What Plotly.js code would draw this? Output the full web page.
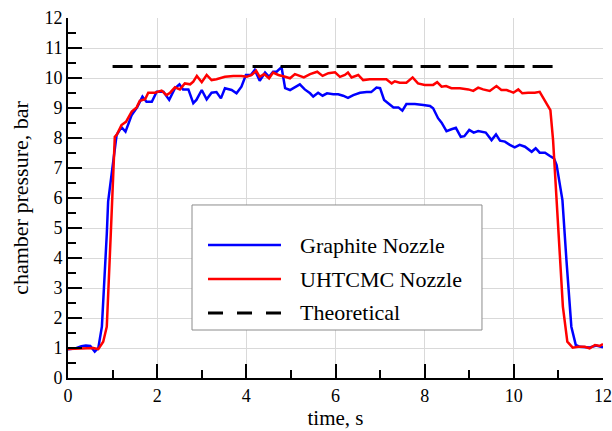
<!DOCTYPE html>
<html>
<head>
<meta charset="utf-8">
<script src="https://cdn.plot.ly/plotly-3.0.1.min.js"></script>
<style>html,body{margin:0;padding:0;background:#fff;}#chart{width:612px;height:431px;}</style>
</head>
<body>
<div id="chart"></div>
<script>
// Graphite nozzle chamber pressure (bar) vs time (s)
const graphiteTime = [0, 0.15, 0.3, 0.4, 0.5, 0.6, 0.68, 0.76, 0.87, 0.9, 1.09, 1.2, 1.29, 1.43, 1.55, 1.67, 1.76, 1.88, 1.99, 2.14, 2.27, 2.4, 2.5, 2.58, 2.7, 2.81, 2.88, 3.0, 3.11, 3.22, 3.33, 3.43, 3.52, 3.67, 3.78, 3.89, 3.99, 4.1, 4.19, 4.3, 4.42, 4.51, 4.6, 4.68, 4.79, 4.87, 4.98, 5.09, 5.2, 5.31, 5.43, 5.5, 5.61, 5.71, 5.81, 5.95, 6.06, 6.17, 6.28, 6.4, 6.55, 6.7, 6.8, 6.92, 7.0, 7.09, 7.18, 7.3, 7.41, 7.5, 7.59, 7.78, 7.97, 8.12, 8.19, 8.3, 8.38, 8.49, 8.6, 8.7, 8.81, 8.89, 9.0, 9.1, 9.2, 9.37, 9.5, 9.6, 9.69, 9.8, 9.91, 10.02, 10.13, 10.25, 10.4, 10.49, 10.58, 10.7, 10.81, 10.9, 10.96, 11.02, 11.09, 11.18, 11.29, 11.39, 11.48, 11.7, 11.85, 12];
const graphitePressure = [0.96, 0.98, 1.06, 1.08, 1.07, 0.88, 1.0, 1.71, 4.8, 5.88, 8.1, 8.36, 8.21, 8.77, 9.02, 9.38, 9.21, 9.21, 9.54, 9.54, 9.27, 9.66, 9.79, 9.62, 9.62, 9.16, 9.27, 9.6, 9.29, 9.51, 9.53, 9.32, 9.66, 9.6, 9.49, 9.71, 10.1, 10.1, 10.27, 9.91, 10.18, 10.04, 10.21, 10.21, 10.36, 9.66, 9.6, 9.69, 9.79, 9.62, 9.49, 9.38, 9.51, 9.41, 9.49, 9.46, 9.46, 9.41, 9.34, 9.43, 9.51, 9.53, 9.53, 9.68, 9.66, 9.27, 9.16, 9.02, 9.02, 8.91, 9.13, 9.13, 9.1, 9.07, 8.99, 8.66, 8.51, 8.23, 8.29, 8.34, 8.04, 8.06, 8.27, 8.18, 8.23, 8.18, 7.93, 8.12, 7.91, 7.88, 7.77, 7.69, 7.77, 7.71, 7.54, 7.66, 7.51, 7.51, 7.4, 7.32, 7.1, 6.6, 5.93, 3.93, 1.71, 1.1, 1.04, 1.02, 1.08, 1.02];

// UHTCMC nozzle chamber pressure (bar) vs time (s)
const uhtcmcTime = [0, 0.2, 0.4, 0.57, 0.68, 0.79, 0.87, 0.9, 0.96, 1.05, 1.09, 1.2, 1.3, 1.43, 1.54, 1.61, 1.73, 1.8, 1.95, 2.1, 2.21, 2.29, 2.4, 2.51, 2.62, 2.74, 2.81, 2.89, 3.0, 3.11, 3.22, 3.33, 3.52, 3.71, 3.89, 4.01, 4.12, 4.22, 4.3, 4.4, 4.51, 4.6, 4.72, 4.87, 4.98, 5.09, 5.2, 5.29, 5.43, 5.59, 5.71, 5.84, 5.99, 6.1, 6.21, 6.28, 6.36, 6.51, 6.62, 6.77, 6.92, 7.14, 7.26, 7.33, 7.44, 7.59, 7.73, 7.85, 8.0, 8.19, 8.28, 8.38, 8.48, 8.6, 8.79, 8.98, 9.09, 9.2, 9.31, 9.46, 9.61, 9.72, 9.84, 9.99, 10.1, 10.19, 10.32, 10.47, 10.58, 10.66, 10.77, 10.82, 10.88, 10.92, 10.97, 11.05, 11.1, 11.2, 11.32, 11.44, 11.59, 11.7, 11.82, 11.93, 12];
const uhtcmcPressure = [0.97, 0.98, 0.98, 1.0, 0.96, 1.21, 1.71, 2.65, 4.82, 8.04, 8.1, 8.43, 8.54, 8.88, 9.02, 9.24, 9.29, 9.51, 9.51, 9.58, 9.43, 9.51, 9.69, 9.62, 9.82, 9.79, 9.88, 10.07, 9.86, 10.1, 9.93, 9.96, 10.04, 10.07, 10.07, 10.04, 10.1, 10.24, 10.04, 10.13, 9.99, 10.18, 10.1, 10.04, 9.99, 10.13, 10.07, 10.02, 10.13, 10.21, 10.07, 10.16, 10.19, 10.04, 10.1, 10.18, 10.02, 10.1, 9.93, 9.96, 9.96, 9.96, 9.82, 9.89, 9.84, 9.84, 10.02, 9.82, 9.77, 9.77, 9.86, 9.71, 9.73, 9.66, 9.66, 9.62, 9.57, 9.68, 9.62, 9.57, 9.73, 9.6, 9.6, 9.51, 9.62, 9.49, 9.51, 9.51, 9.54, 9.32, 9.04, 8.93, 7.93, 6.93, 5.93, 3.71, 2.38, 1.21, 1.01, 1.04, 1.04, 0.99, 1.1, 1.07, 1.13];

// Theoretical chamber pressure
const theoreticalTime = [1, 11];
const theoreticalPressure = [10.38, 10.38];

const seriesNames = ["Graphite Nozzle", "UHTCMC Nozzle", "Theoretical"];
const xTitle = "time, s";
const yTitle = "chamber pressure, bar";

const FONT = "Liberation Serif, Times New Roman, serif";

const traces = [
  {x: graphiteTime, y: graphitePressure, name: seriesNames[0], mode: "lines",
   line: {color: "#0000ff", width: 2.5}},
  {x: uhtcmcTime, y: uhtcmcPressure, name: seriesNames[1], mode: "lines",
   line: {color: "#ff0000", width: 2.5}},
  {x: theoreticalTime, y: theoreticalPressure, name: seriesNames[2], mode: "lines",
   line: {color: "#000000", width: 3, dash: "20px,8px"}}
];

// manual legend geometry (paper coords)
const legRows = [0.3694, 0.275, 0.1806];
const legColors = ["#0000ff", "#ff0000", "#000000"];
const legDash = ["solid", "solid", "15px,14px"];
const shapes = [
  {type: "rect", xref: "paper", yref: "paper", x0: 0.2318, x1: 0.7738, y0: 0.1333, y1: 0.4806,
   line: {color: "#8c8c8c", width: 1}, fillcolor: "#ffffff", layer: "above"}
];
const annotations = [];
seriesNames.forEach((n, i) => {
  shapes.push({type: "line", xref: "paper", yref: "paper", x0: 0.2617, x1: 0.3981,
    y0: legRows[i], y1: legRows[i], line: {color: legColors[i], width: i === 2 ? 3 : 2.5, dash: legDash[i]}, layer: "above"});
  annotations.push({xref: "paper", yref: "paper", x: 0.4299, y: legRows[i], xanchor: "left", yanchor: "middle",
    text: n, showarrow: false, font: {family: FONT, size: 22, color: "#000"}});
});

const layout = {
  width: 612, height: 431,
  margin: {l: 68, r: 9, t: 18, b: 53, pad: 0},
  paper_bgcolor: "#fff", plot_bgcolor: "#fff",
  showlegend: false,
  font: {family: FONT, size: 18, color: "#000"},
  xaxis: {
    range: [0, 12], dtick: 2, tick0: 0,
    showline: true, linecolor: "#000", linewidth: 2,
    ticks: "inside", ticklen: 14, tickwidth: 2, tickcolor: "#000",
    minor: {dtick: 1, ticks: "inside", ticklen: 8, tickwidth: 2, tickcolor: "#000", showgrid: false},
    showgrid: true, gridcolor: "#d9d9d9", gridwidth: 1, zeroline: false,
    tickfont: {family: FONT, size: 18, color: "#000"},
    title: {text: xTitle, font: {family: FONT, size: 21, color: "#000"}, standoff: 0}
  },
  yaxis: {
    range: [0, 12], dtick: 1, tick0: 0,
    showline: true, linecolor: "#000", linewidth: 2,
    ticks: "inside", ticklen: 14, tickwidth: 2, tickcolor: "#000",
    minor: {dtick: 0.5, ticks: "inside", ticklen: 8, tickwidth: 2, tickcolor: "#000", showgrid: false},
    showgrid: true, gridcolor: "#d9d9d9", gridwidth: 1, zeroline: false,
    tickfont: {family: FONT, size: 18, color: "#000"},
    title: {text: yTitle, font: {family: FONT, size: 22, color: "#000"}, standoff: 10}
  },
  shapes: shapes,
  annotations: annotations
};

Plotly.newPlot("chart", traces, layout, {displayModeBar: false, staticPlot: true});
</script>
</body>
</html>
